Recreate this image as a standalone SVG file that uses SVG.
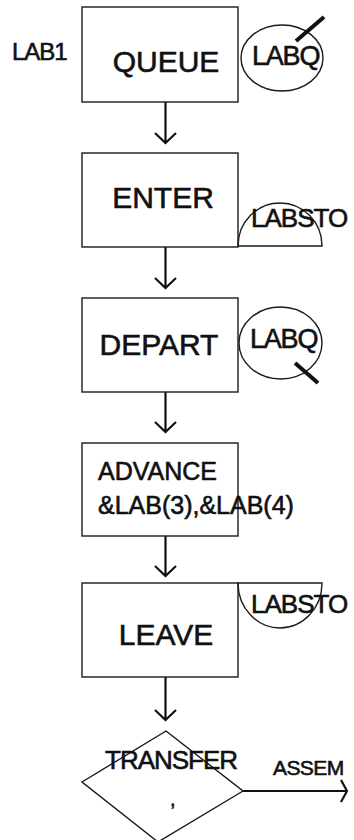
<svg xmlns="http://www.w3.org/2000/svg" width="354" height="840" viewBox="0 0 354 840">
<style>
.box{fill:#fff;stroke:#1a1a1a;stroke-width:1.4}
.ln{fill:none;stroke:#1a1a1a;stroke-width:1.4}
.conn{fill:none;stroke:#111;stroke-width:2.2}
.t{font-family:"Liberation Sans",Arial,sans-serif;fill:#111;stroke:#111;stroke-width:0.6}
.big{font-size:30px;text-anchor:middle}
.mid{font-size:25px}
.sm{font-size:26px;letter-spacing:-1px}
</style>
<rect width="354" height="840" fill="#fff"/>
<g id="connectors">
<path class="conn" d="M165.5,102V143M155,133L165.5,143L176,133"/>
<path class="conn" d="M165.5,247V288M155,278L165.5,288L176,278"/>
<path class="conn" d="M165.5,392V432M155,422L165.5,432L176,422"/>
<path class="conn" d="M165.5,536V576M155,566L165.5,576L176,566"/>
<path class="conn" d="M165.5,677V720M155,710L165.5,720L176,710"/>
<path class="conn" d="M243,791H347M341,780L347,791L341,802"/>
</g>
<g id="lab1"><text class="t" x="12" y="60" font-size="24" letter-spacing="-1">LAB1</text></g>
<g id="queue">
<rect class="box" x="82" y="7" width="156" height="95"/>
<text class="t big" x="166" y="72">QUEUE</text>
</g>
<g id="labq1">
<ellipse class="ln" cx="282" cy="58" rx="41" ry="33"/>
<text class="t" x="252" y="65" font-size="27" letter-spacing="-1.2">LABQ</text>
<line x1="296" y1="41" x2="324" y2="17" stroke="#111" stroke-width="4"/>
</g>
<g id="enter">
<rect class="box" x="82" y="153" width="156" height="94"/>
<text class="t big" x="163" y="208">ENTER</text>
</g>
<g id="labsto1">
<path class="ln" d="M238,246A42,43 0 0 1 322,246Z"/>
<text class="t sm" x="251" y="227">LABSTO</text>
</g>
<g id="depart">
<rect class="box" x="82" y="298" width="156" height="94"/>
<text class="t big" x="159" y="355">DEPART</text>
</g>
<g id="labq2">
<ellipse class="ln" cx="280.5" cy="343" rx="41.5" ry="36"/>
<text class="t" x="250" y="348" font-size="27" letter-spacing="-1.2">LABQ</text>
<line x1="295" y1="363" x2="318" y2="383" stroke="#111" stroke-width="4"/>
</g>
<g id="advance">
<rect class="box" x="82" y="443" width="156" height="93"/>
<text class="t mid" x="98" y="480">ADVANCE</text>
<text class="t mid" x="98" y="514">&amp;LAB(3),&amp;LAB(4)</text>
</g>
<g id="leave">
<rect class="box" x="82" y="583" width="156" height="94"/>
<text class="t big" x="166" y="645">LEAVE</text>
</g>
<g id="labsto2">
<path class="ln" d="M238,583A42,45 0 0 0 322,583Z"/>
<text class="t sm" x="251" y="613">LABSTO</text>
</g>
<g id="transfer">
<path class="ln" d="M166,731L243,791L158,842L82,782Z"/>
<text class="t" x="105" y="769" font-size="26" letter-spacing="-1">TRANSFER</text>
<text class="t" x="170" y="806" font-size="20">,</text>
</g>
<g id="assem"><text class="t" x="273" y="775" font-size="21" letter-spacing="-0.6">ASSEM</text></g>
</svg>
